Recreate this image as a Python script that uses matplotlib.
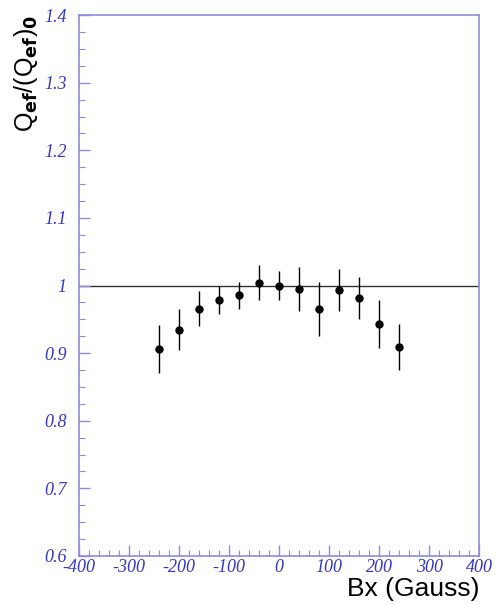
import matplotlib
matplotlib.use("Agg")
import matplotlib.pyplot as plt
from matplotlib.ticker import MultipleLocator

# field values and normalised ratio
bx = [-240, -200, -160, -120, -80, -40, 0, 40, 80, 120, 160, 200, 240]
ratio = [0.906, 0.935, 0.966, 0.979, 0.986, 1.004, 1.000, 0.995, 0.966, 0.993, 0.981, 0.943, 0.909]
err = [0.036, 0.031, 0.026, 0.021, 0.020, 0.026, 0.021, 0.033, 0.040, 0.031, 0.031, 0.036, 0.034]

xticks = [-400, -300, -200, -100, 0, 100, 200, 300, 400]
xtick_labels = ["-400", "-300", "-200", "-100", "0", "100", "200", "300", "400"]
yticks = [0.6, 0.7, 0.8, 0.9, 1.0, 1.1, 1.2, 1.3, 1.4]
ytick_labels = ["0.6", "0.7", "0.8", "0.9", "1", "1.1", "1.2", "1.3", "1.4"]

axis_col = "#8c8cd8"
label_col = "#3535c8"
tick_font = dict(family="Liberation Serif", style="italic", size=13)

fig = plt.figure(figsize=(4.96, 6.05), dpi=100)
ax = fig.add_axes([0.159, 0.081, 0.807, 0.894])

ax.axhline(1.0, color="#333333", lw=1.0, zorder=1)
ax.errorbar(bx, ratio, yerr=err, fmt="o", color="black", ms=5, elinewidth=1.0,
            capsize=0, zorder=3)

ax.set_xlim(-400, 400)
ax.set_ylim(0.6, 1.4)
ax.xaxis.set_minor_locator(MultipleLocator(20))
ax.yaxis.set_minor_locator(MultipleLocator(0.025))

for s in ax.spines.values():
    s.set_color(axis_col)
    s.set_linewidth(1.2)

ax.tick_params(which="both", direction="in", color=axis_col, top=False, right=False)
ax.tick_params(which="major", length=8, width=1.0)
ax.tick_params(which="minor", length=4, width=0.8)
ax.tick_params(axis="both", labelcolor=label_col)
ax.tick_params(axis="x", pad=2)
ax.tick_params(axis="y", pad=9)

ax.set_yticks(yticks)
ax.set_yticklabels(ytick_labels, **tick_font)
ax.set_xticks(xticks)
ax.set_xticklabels(xtick_labels, **tick_font)

ax.set_xlabel("Bx (Gauss)", fontsize=19, family="Liberation Sans", color="black",
              loc="right", labelpad=1)
ax.set_ylabel(r"Q$_{\mathbf{ef}}$/(Q$_{\mathbf{ef}}$)$_{\mathbf{0}}$", fontsize=18,
              family="Liberation Sans", color="black", loc="top", labelpad=3)

fig.savefig("out.png", dpi=100)
